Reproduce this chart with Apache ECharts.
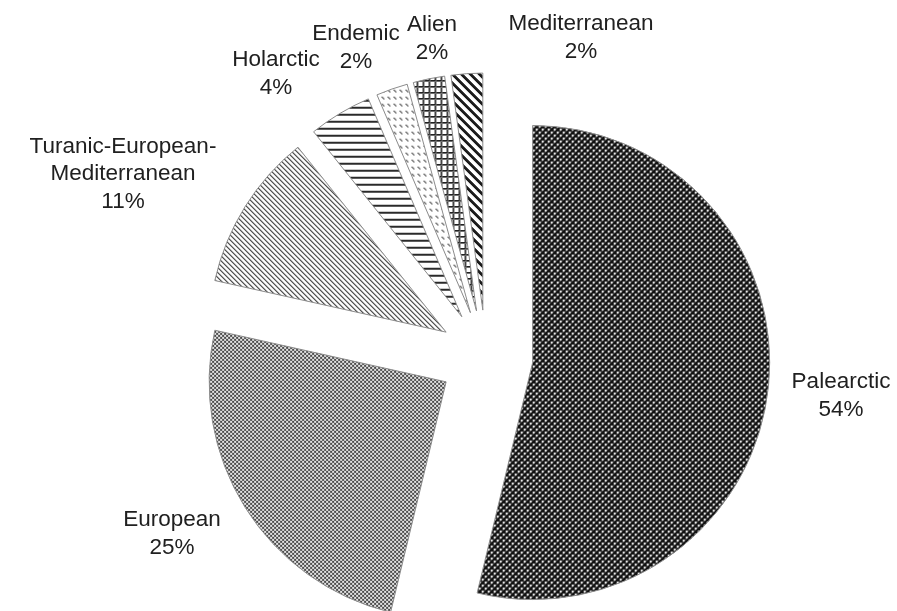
<!DOCTYPE html>
<html>
<head>
<meta charset="utf-8">
<script src="https://cdn.jsdelivr.net/npm/echarts@6/dist/echarts.min.js"></script>
<style>
  html, body { margin: 0; padding: 0; background: #ffffff; }
  #chart { width: 897px; height: 611px; }
</style>
</head>
<body>
<div id="chart"></div>
<script>
// ---- Data (species counts per chorotype; shown as rounded percentages) ----
const categories = ['Palearctic', 'European', 'Turanic-European-Mediterranean', 'Holarctic', 'Endemic', 'Alien', 'Mediterranean'];
const values = [50, 23, 10, 4, 2, 2, 2];

// ---- Layout (label block centres, px) ----
const labelCenters = [[841, 396], [172, 534], [123, 174], [276, 74], [356, 48], [432, 39], [581, 38]];

// ---- Pattern tiles ----
function tile(w, h, draw) {
  const c = document.createElement('canvas');
  c.width = w; c.height = h;
  const ctx = c.getContext('2d');
  ctx.fillStyle = '#ffffff';
  ctx.fillRect(0, 0, w, h);
  draw(ctx, w, h);
  return { image: c, repeat: 'repeat' };
}
function px(ctx, x, y, col) { ctx.fillStyle = col; ctx.fillRect(x, y, 1, 1); }

const patterns = [
  // Palearctic: dark diamond lattice with light dots
  tile(6, 6, (ctx) => {
    ctx.fillStyle = '#121212'; ctx.fillRect(0, 0, 6, 6);
    ctx.fillStyle = '#e8e8e8'; ctx.fillRect(0, 0, 2, 2); ctx.fillRect(3, 3, 2, 2);
    px(ctx, 2, 0, '#666'); px(ctx, 0, 2, '#666'); px(ctx, 5, 3, '#666'); px(ctx, 3, 5, '#666');
  }),
  // European: fine checker
  tile(4, 4, (ctx) => {
    ctx.fillStyle = '#e2e2e2'; ctx.fillRect(0, 0, 4, 4);
    ctx.fillStyle = '#4c4c4c'; ctx.fillRect(0, 0, 2, 2); ctx.fillRect(2, 2, 2, 2);
  }),
  // Turanic-European-Mediterranean: thin diagonal lines
  tile(5, 5, (ctx) => {
    for (let i = 0; i < 5; i++) { px(ctx, i, i, '#2a2a2a'); px(ctx, (i + 1) % 5, i, '#a0a0a0'); }
  }),
  // Holarctic: horizontal lines
  tile(4, 7, (ctx) => {
    ctx.fillStyle = '#2a2a2a'; ctx.fillRect(0, 0, 4, 2);
  }),
  // Endemic: sparse diagonal dashes
  tile(6, 7, (ctx) => {
    px(ctx, 1, 1, '#3a3a3a'); px(ctx, 2, 2, '#3a3a3a'); px(ctx, 3, 3, '#555');
    px(ctx, 2, 1, '#aaa'); px(ctx, 3, 2, '#aaa');
  }),
  // Alien: grid
  tile(6, 6, (ctx) => {
    ctx.fillStyle = '#202020'; ctx.fillRect(0, 0, 6, 1); ctx.fillRect(0, 0, 1, 6);
    ctx.fillStyle = '#707070'; ctx.fillRect(0, 1, 6, 1); ctx.fillRect(1, 0, 1, 6);
  }),
  // Mediterranean: thick diagonal stripes
  tile(9, 9, (ctx) => {
    for (let y = 0; y < 9; y++) for (let x = 0; x < 9; x++) {
      const d = ((x - y) % 9 + 9) % 9;
      if (d < 4) px(ctx, x, y, '#1a1a1a');
    }
  })
];

const total = values.reduce((a, b) => a + b, 0);

const pieData = categories.map((name, i) => ({
  name: name,
  value: values[i],
  selected: true,
  itemStyle: { color: patterns[i] }
}));

const labelFont = '22.5px "Liberation Sans", Arial, sans-serif';
const labelTexts = categories.map((name, i) =>
  name.replace('European-', 'European-\n') + '\n' + Math.round(values[i] / total * 100) + '%');

const graphics = labelTexts.map((t, i) => ({
  type: 'text',
  x: labelCenters[i][0],
  y: labelCenters[i][1],
  silent: true,
  style: {
    text: t,
    fill: '#202020',
    font: labelFont,
    lineHeight: 27.5,
    align: 'center',
    verticalAlign: 'middle',
    textAlign: 'center',
    textVerticalAlign: 'middle'
  }
}));

const chart = echarts.init(document.getElementById('chart'), null, { renderer: 'canvas' });
chart.setOption({
  animation: false,
  backgroundColor: '#ffffff',
  graphic: { elements: graphics },
  series: [{
    type: 'pie',
    center: [486, 357],
    radius: 237,
    startAngle: 90,
    clockwise: true,
    selectedMode: 'multiple',
    selectedOffset: 47,
    emphasis: { disabled: true },
    itemStyle: { borderColor: '#8c8c8c', borderWidth: 1 },
    label: { show: false },
    labelLine: { show: false },
    data: pieData
  }]
});
</script>
</body>
</html>
